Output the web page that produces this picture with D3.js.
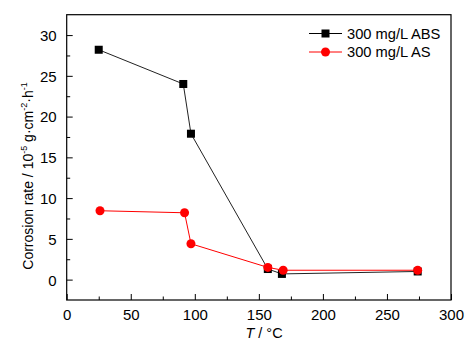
<!DOCTYPE html>
<html><head><meta charset="utf-8">
<script src="https://cdn.jsdelivr.net/npm/d3@7"></script>
<style>body{margin:0;background:#fff}svg{display:block}text{font-family:"Liberation Sans",Arial,sans-serif}</style>
</head><body><svg id="c" width="473" height="348"></svg>
<script>
const absT = [25, 91, 97, 157, 168, 274];
const absRate = [28.2, 24.0, 17.9, 1.3, 0.7, 1.0];
const asT = [26, 92, 97, 157, 169, 274];
const asRate = [8.45, 8.2, 4.4, 1.5, 1.15, 1.15];
const seriesNames = ["300 mg/L ABS", "300 mg/L AS"];
const xTicks = [0, 50, 100, 150, 200, 250, 300];
const yTicks = [0, 5, 10, 15, 20, 25, 30];

const svg = d3.select("#c");
const L = 66.7, R = 451, T = 14.7, B = 300;
const x = d3.scaleLinear().domain([0, 300]).range([L, R]);
const y = d3.scaleLinear().domain([-2.5, 32.5]).range([B, T]);

const xMinor = d3.range(25, 300, 50);
const yMinor = d3.range(2.5, 32.5, 5);
const gx = svg.append("g").attr("transform", `translate(0,${B})`);
gx.call(d3.axisBottom(x).tickValues(xMinor).tickSize(-3.5).tickFormat(""));
gx.append("g").call(d3.axisBottom(x).tickValues(xTicks).tickSize(-6).tickPadding(9));
const gy = svg.append("g").attr("transform", `translate(${L},0)`);
gy.call(d3.axisLeft(y).tickValues(yMinor).tickSize(-3.5).tickFormat(""));
gy.append("g").call(d3.axisLeft(y).tickValues(yTicks).tickSize(-6).tickPadding(10));
svg.selectAll(".domain").remove();
svg.selectAll(".tick line").attr("stroke", "#000").attr("stroke-width", 1);
svg.selectAll(".tick text").attr("font-size", 15).attr("fill", "#000")
  .attr("font-family", '"Liberation Sans",Arial,sans-serif');
gy.selectAll(".tick text").attr("dy", "0.36em");

svg.append("rect").attr("x", L).attr("y", T).attr("width", R - L).attr("height", B - T)
  .attr("fill", "none").attr("stroke", "#000").attr("stroke-width", 1.2);

const line = d3.line().x(d => x(d[0])).y(d => y(d[1]));
const absData = absT.map((t, i) => [t, absRate[i]]);
const asData = asT.map((t, i) => [t, asRate[i]]);

svg.append("path").datum(absData).attr("d", line).attr("fill", "none").attr("stroke", "#222").attr("stroke-width", 1);
svg.append("path").datum(asData).attr("d", line).attr("fill", "none").attr("stroke", "#f00").attr("stroke-width", 1);
svg.selectAll(".sq").data(absData).enter().append("rect")
  .attr("x", d => x(d[0]) - 4).attr("y", d => y(d[1]) - 4).attr("width", 8).attr("height", 8).attr("fill", "#000");
svg.selectAll(".ci").data(asData).enter().append("circle")
  .attr("cx", d => x(d[0])).attr("cy", d => y(d[1])).attr("r", 4.5).attr("fill", "#f00");

const leg = [{c: "#000", sq: true}, {c: "#f00", sq: false}];
leg.forEach((l, i) => {
  const yy = 33.5 + i * 18.5;
  svg.append("line").attr("x1", 309).attr("x2", 342).attr("y1", yy).attr("y2", yy).attr("stroke", l.c).attr("stroke-width", 1);
  if (l.sq) svg.append("rect").attr("x", 325.5 - 4).attr("y", yy - 4).attr("width", 8).attr("height", 8).attr("fill", l.c);
  else svg.append("circle").attr("cx", 325.5).attr("cy", yy).attr("r", 4.5).attr("fill", l.c);
  svg.append("text").attr("x", 347).attr("y", yy).attr("dy", "0.36em").attr("font-size", 14.7).text(seriesNames[i]);
});

const xt = svg.append("text").attr("x", 264).attr("y", 338).attr("text-anchor", "middle").attr("font-size", 14.5);
xt.append("tspan").attr("font-style", "italic").text("T");
xt.append("tspan").text(" / °C");

const yt = svg.append("text").attr("transform", "translate(33,176) rotate(-90)").attr("text-anchor", "middle").attr("font-size", 14);
yt.append("tspan").text("Corrosion rate / 10");
yt.append("tspan").attr("font-size", 9).attr("dy", -6).text("-5");
yt.append("tspan").attr("dy", 6).text(" g·cm");
yt.append("tspan").attr("font-size", 9).attr("dy", -6).text("-2");
yt.append("tspan").attr("dy", 6).text("·h");
yt.append("tspan").attr("font-size", 9).attr("dy", -6).text("-1");
</script></body></html>
